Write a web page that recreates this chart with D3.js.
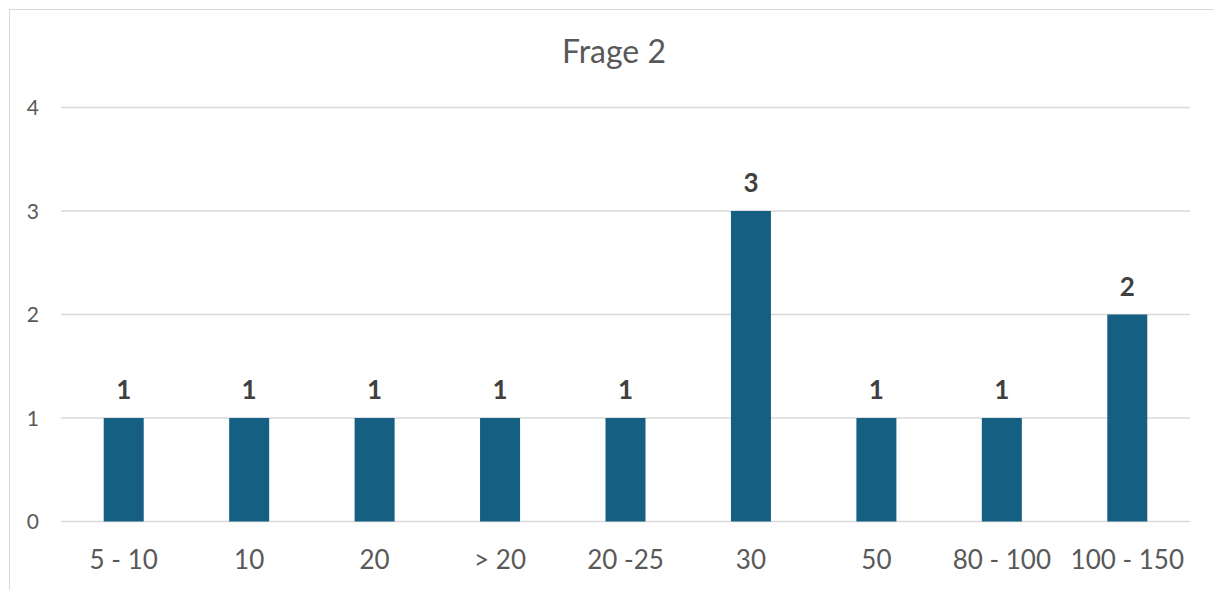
<!DOCTYPE html>
<html><head><meta charset="utf-8">
<script src="https://cdn.jsdelivr.net/npm/d3@7"></script>
<style>body{margin:0;background:#fff;}svg{display:block;font-family:Lato,"Open Sans",sans-serif;}</style>
</head><body>
<svg id="c" width="1214" height="590"></svg>
<script>
const categories = ["5 - 10","10","20","> 20","20 -25","30","50","80 - 100","100 - 150"];
const values = [1,1,1,1,1,3,1,1,2];
const yTicks = [0,1,2,3,4];
const title = "Frage 2";

const svg = d3.select("#c");
// chart border (top and left visible)
svg.append("path").attr("d","M9.5,590 L9.5,9.5 L1214,9.5").attr("fill","none").attr("stroke","#d9d9d9").attr("stroke-width",1);

const x = d3.scaleBand().domain(categories).range([61,1190]).padding(0);
const y = d3.scaleLinear().domain([0,4]).range([521.5,107.5]);

svg.append("text").attr("x",614).attr("y",63).attr("text-anchor","middle")
  .attr("font-size",32).attr("fill","#595959").text(title);

svg.append("g").selectAll("line").data(yTicks).join("line")
  .attr("x1",61).attr("x2",1190).attr("y1",d=>y(d)).attr("y2",d=>y(d))
  .attr("stroke","#d9d9d9").attr("stroke-width",1.5);

svg.append("g").selectAll("text").data(yTicks).join("text")
  .attr("x",39).attr("y",d=>y(d)).attr("dy","0.36em").attr("text-anchor","end")
  .attr("font-size",21).attr("fill","#595959").text(d=>d);

const bw = 40;
svg.append("g").selectAll("rect").data(values).join("rect")
  .attr("x",(d,i)=>x(categories[i])+x.bandwidth()/2-bw/2)
  .attr("width",bw)
  .attr("y",d=>y(d)).attr("height",d=>y(0)-y(d))
  .attr("fill","#156082");

svg.append("g").selectAll("text").data(values).join("text")
  .attr("x",(d,i)=>x(categories[i])+x.bandwidth()/2)
  .attr("y",d=>y(d)-19).attr("text-anchor","middle")
  .attr("font-size",26).attr("font-weight","bold").attr("fill","#404040").text(d=>d);

svg.append("g").selectAll("text").data(categories).join("text")
  .attr("x",d=>x(d)+x.bandwidth()/2).attr("y",569).attr("text-anchor","middle")
  .attr("font-size",26).attr("fill","#595959").text(d=>d);
</script>
</body></html>
